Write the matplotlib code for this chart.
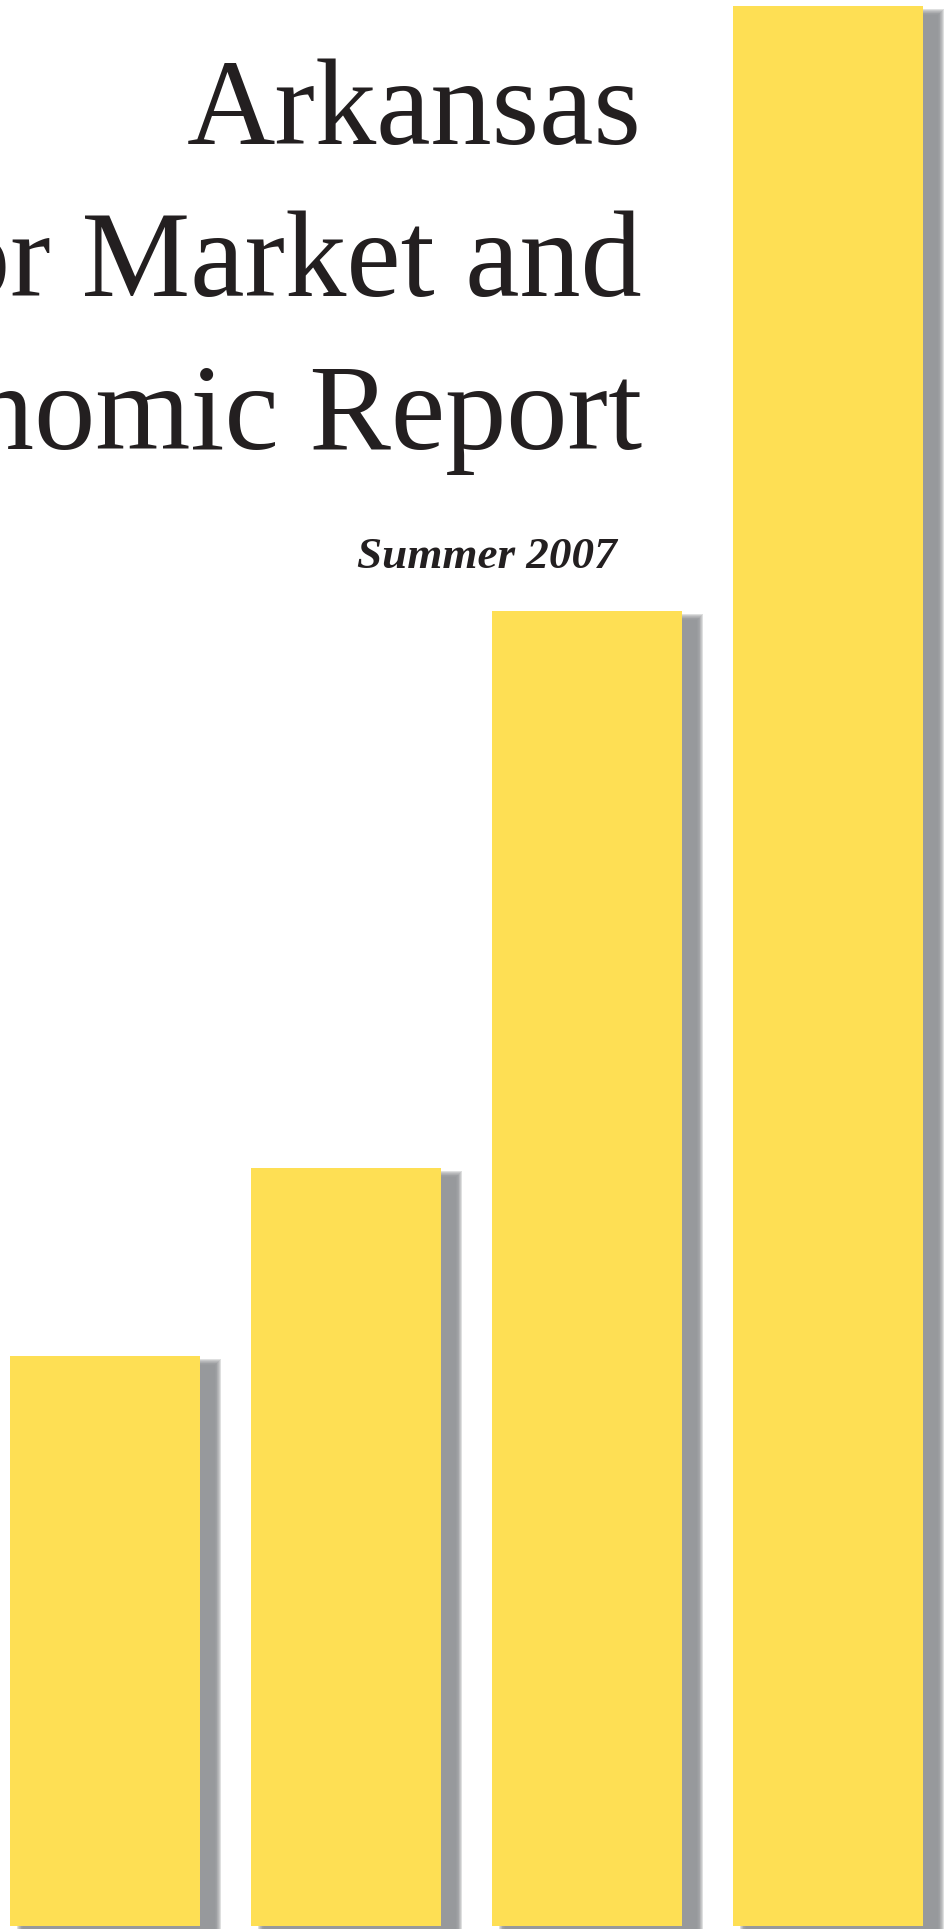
import matplotlib
matplotlib.use("Agg")
import matplotlib.pyplot as plt
import numpy as np

# bar heights (pixel-ish units on the cover)
bar_values = [570, 758, 1315, 1920]
bar_pos = np.arange(len(bar_values))
title_lines = ["Arkansas", "Labor Market and", "Economic Report"]
subtitle = "Summer 2007"

yellow = '#FEDF54'
shadow = '#939598'
ink = '#231F20'

W, H = 953, 1929
fig = plt.figure(figsize=(W / 100, H / 100), dpi=100)
ax = fig.add_axes([0, 0, 1, 1])
ax.set_axis_off()

step = 241.0   # px between bar centres
x0 = 105.0     # px centre of first bar
ax.set_xlim(-x0 / step, (W - x0) / step)
ax.set_ylim(-3, H - 3)
bw = 190.0 / step

# fake blurred drop shadow: stacked translucent bars
dx, dy, blur, n = 14.0, 10.0, 7.0, 8
for i in range(n):
    g = blur * (i + 1) / n
    ax.bar(bar_pos + dx / step, np.array(bar_values) + 60 - dy + g,
           width=bw + 2 * g / step, bottom=-60, color=shadow,
           alpha=0.3, linewidth=0, zorder=1)

ax.bar(bar_pos, bar_values, width=bw, color=yellow, linewidth=0, zorder=2)

# title block, right aligned and running off the left edge (as on the cover)
xr = 642 / W
baselines = [144, 296, 449]
for line, b in zip(title_lines, baselines):
    fig.text(xr, 1 - b / H, line, ha='right', va='baseline',
             fontsize=88, family='Liberation Serif', color=ink)

fig.text(617 / W, 1 - 568 / H, subtitle, ha='right', va='baseline',
         fontsize=32.5, family='Liberation Serif', style='italic',
         weight='bold', color=ink)

fig.savefig('out.png', dpi=100, facecolor='white')
